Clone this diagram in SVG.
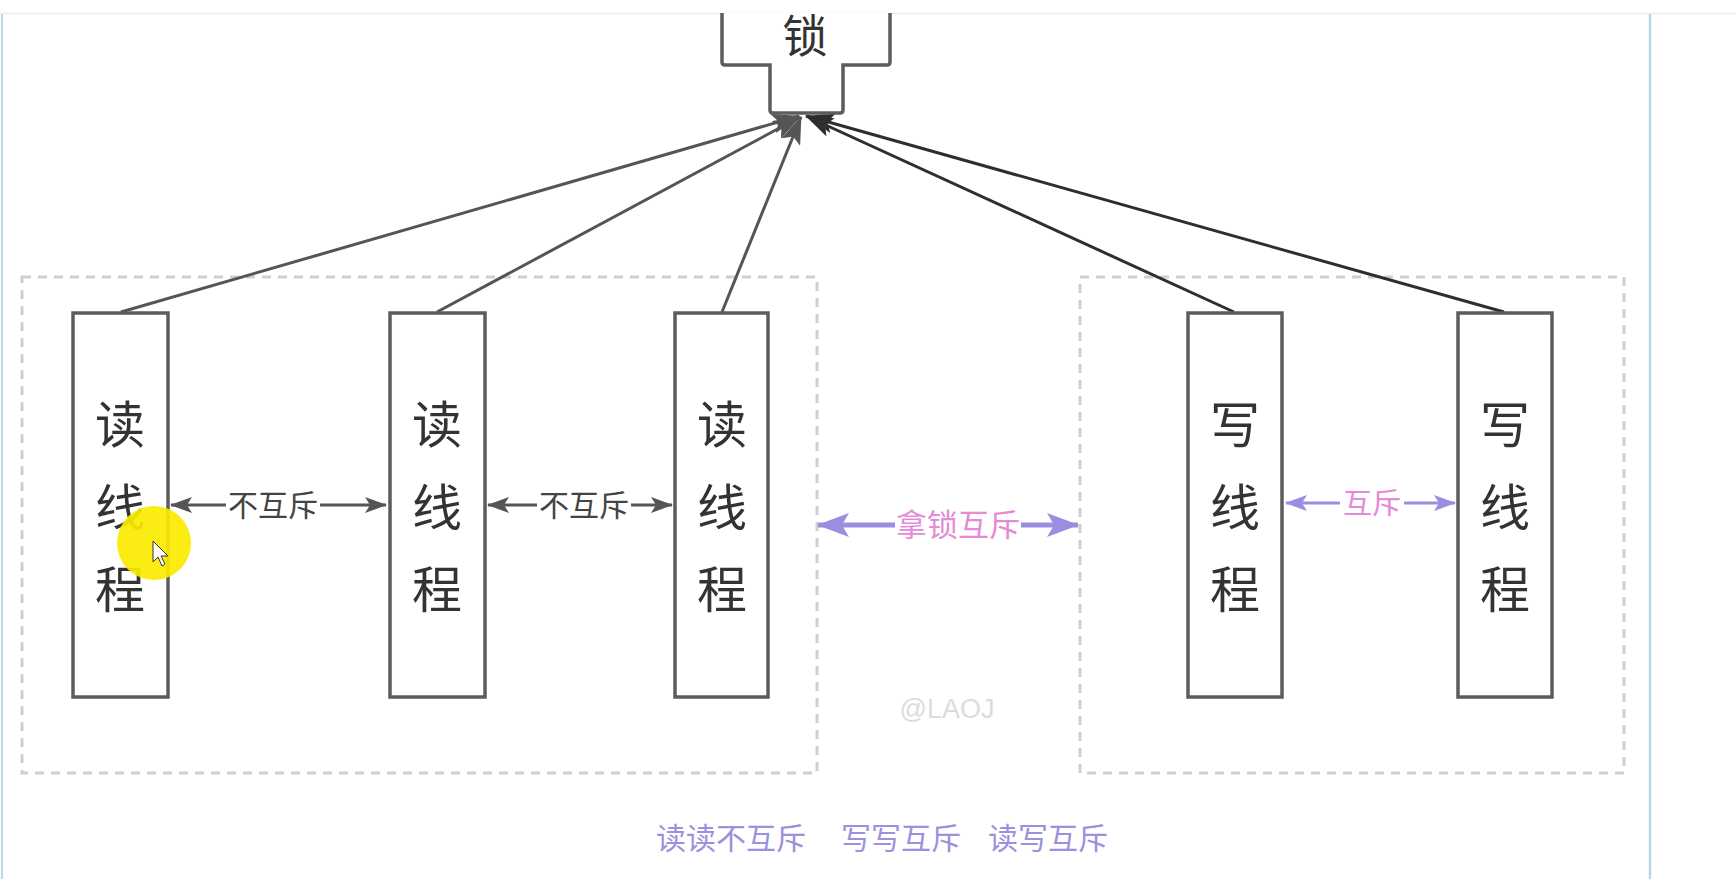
<svg xmlns="http://www.w3.org/2000/svg" width="1736" height="879" viewBox="0 0 1736 879">
<style>
.node{fill:#fff;stroke:#5c5c5c;stroke-width:3.5}
.cjk{font-family:"Noto Sans CJK SC","Liberation Sans",sans-serif}
.big{font-size:50px;fill:#333;text-anchor:middle}
.lbl{font-size:30px;fill:#444;text-anchor:middle}
.plbl{font-size:30px;fill:#e58ad6;text-anchor:middle}
.grp{fill:none;stroke:#cfcfcf;stroke-width:3;stroke-dasharray:9,7}
.cg{stroke:#555;stroke-width:3;fill:none}
.cd{stroke:#2e2e2e;stroke-width:3;fill:none}
.cp{stroke:#9d8de2;stroke-width:3;fill:none}
.cp2{stroke:#9d8de2;stroke-width:5;fill:none}
.foot{font-size:30px;fill:#9d90dc}
</style>
<defs>
<marker id="ag" viewBox="0 0 22 16" refX="21" refY="8" markerWidth="22" markerHeight="16" markerUnits="userSpaceOnUse" orient="auto-start-reverse"><path d="M0,0 L22,8 L0,16 L5,8 Z" fill="#555"/></marker>
<marker id="agl" viewBox="0 0 28 20" refX="27" refY="10" markerWidth="28" markerHeight="20" markerUnits="userSpaceOnUse" orient="auto"><path d="M0,0 L28,10 L0,20 L6,10 Z" fill="#555"/></marker>
<marker id="ad" viewBox="0 0 28 20" refX="27" refY="10" markerWidth="28" markerHeight="20" markerUnits="userSpaceOnUse" orient="auto"><path d="M0,0 L28,10 L0,20 L6,10 Z" fill="#2e2e2e"/></marker>
<marker id="ap" viewBox="0 0 22 16" refX="21" refY="8" markerWidth="22" markerHeight="16" markerUnits="userSpaceOnUse" orient="auto-start-reverse"><path d="M0,0 L22,8 L0,16 L5,8 Z" fill="#9d8de2"/></marker>
<marker id="ap2" viewBox="0 0 32 24" refX="31" refY="12" markerWidth="32" markerHeight="24" markerUnits="userSpaceOnUse" orient="auto-start-reverse"><path d="M0,0 L32,12 L0,24 L7,12 Z" fill="#9d8de2"/></marker>
</defs>
<rect width="1736" height="879" fill="#fff"/>
<line x1="0" y1="13.5" x2="1736" y2="13.5" stroke="#f0f0f0" stroke-width="2"/>
<line x1="2" y1="14" x2="2" y2="879" stroke="#b9d9e6" stroke-width="2"/>
<line x1="1650" y1="14" x2="1650" y2="879" stroke="#b9d9e6" stroke-width="2.5"/>

<g id="groups">
<rect class="grp" x="22" y="277" width="795" height="496"/>
<rect class="grp" x="1080" y="277" width="544" height="496"/>
</g>

<g id="connectors">
<line class="cg" x1="121" y1="312" x2="799" y2="116" marker-end="url(#agl)"/>
<line class="cg" x1="437" y1="312" x2="800" y2="117" marker-end="url(#agl)"/>
<line class="cg" x1="722" y1="312" x2="801" y2="117" marker-end="url(#agl)"/>
<line class="cd" x1="1234" y1="312" x2="806" y2="116" marker-end="url(#ad)"/>
<line class="cd" x1="1504" y1="312" x2="807" y2="116" marker-end="url(#ad)"/>
<line class="cg" x1="171" y1="505" x2="386" y2="505" marker-start="url(#ag)" marker-end="url(#ag)"/>
<line class="cg" x1="488" y1="505" x2="672" y2="505" marker-start="url(#ag)" marker-end="url(#ag)"/>
<line class="cp" x1="1286" y1="503" x2="1455" y2="503" marker-start="url(#ap)" marker-end="url(#ap)"/>
<line class="cp2" x1="818" y1="525" x2="1078" y2="525" marker-start="url(#ap2)" marker-end="url(#ap2)"/>
<rect x="226" y="487" width="94" height="36" fill="#fff"/>
<text class="cjk lbl" x="273" y="516">不互斥</text>
<rect x="537" y="487" width="94" height="36" fill="#fff"/>
<text class="cjk lbl" x="584" y="516">不互斥</text>
<rect x="1340" y="485" width="64" height="36" fill="#fff"/>
<text class="cjk plbl" x="1372" y="514" style="font-size:29px">互斥</text>
<rect x="895" y="506" width="126" height="38" fill="#fff"/>
<text class="cjk plbl" x="958" y="536" style="font-size:31px">拿锁互斥</text>
</g>

<g id="lock">
<path d="M722,13 V62 Q722,65 725,65 H770 V110 Q770,113 773,113 H840 Q843,113 843,110 V65 H887 Q890,65 890,62 V13" fill="#fff" stroke="#5c5c5c" stroke-width="3.5"/>
<text class="cjk big" x="805" y="53" style="font-size:45px">锁</text>
</g>

<g id="read1">
<rect class="node" x="73" y="313" width="95" height="384"/>
<text class="cjk big" x="120" y="443">读</text><text class="cjk big" x="120" y="526">线</text><text class="cjk big" x="120" y="608">程</text>
</g>
<g id="read2">
<rect class="node" x="390" y="313" width="95" height="384"/>
<text class="cjk big" x="437" y="443">读</text><text class="cjk big" x="437" y="526">线</text><text class="cjk big" x="437" y="608">程</text>
</g>
<g id="read3">
<rect class="node" x="675" y="313" width="93" height="384"/>
<text class="cjk big" x="722" y="443">读</text><text class="cjk big" x="722" y="526">线</text><text class="cjk big" x="722" y="608">程</text>
</g>
<g id="write1">
<rect class="node" x="1188" y="313" width="94" height="384"/>
<text class="cjk big" x="1235" y="443">写</text><text class="cjk big" x="1235" y="526">线</text><text class="cjk big" x="1235" y="608">程</text>
</g>
<g id="write2">
<rect class="node" x="1458" y="313" width="94" height="384"/>
<text class="cjk big" x="1505" y="443">写</text><text class="cjk big" x="1505" y="526">线</text><text class="cjk big" x="1505" y="608">程</text>
</g>

<text x="947" y="718" font-family="Liberation Sans, sans-serif" font-size="27" fill="#dcdcdc" text-anchor="middle">@LAOJ</text>

<g id="footer">
<text class="cjk foot" x="656" y="849">读读不互斥</text>
<text class="cjk foot" x="841" y="849">写写互斥</text>
<text class="cjk foot" x="988" y="849">读写互斥</text>
</g>

<g id="cursor">
<circle cx="154" cy="543" r="37" fill="#fbea00" opacity="0.92"/>
<path d="M153,541 L153,562 L158,557 L162,566 L165,564 L161,556 L168,556 Z" fill="#fff" stroke="#333" stroke-width="1"/>
</g>
</svg>
